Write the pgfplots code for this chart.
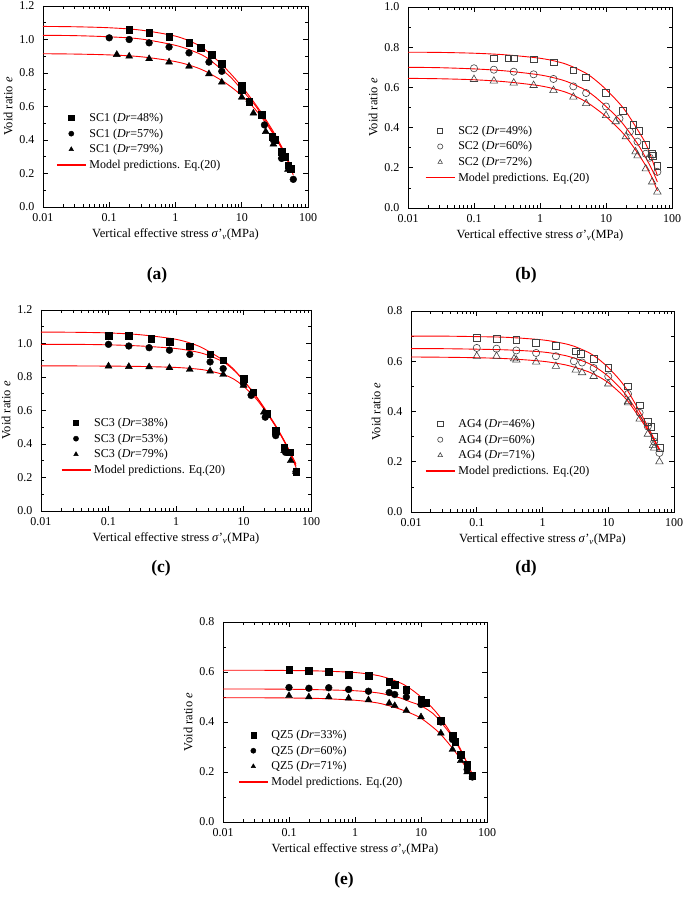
\documentclass[border=0pt]{standalone}
\usepackage{fontspec}
\setmainfont{Liberation Serif}
\usepackage{pgfplots}
\pgfplotsset{compat=1.18}

\pgfplotsset{
  panel/.style={
    scale only axis,
    anchor=south west,
    xmin=0.01, xmax=100,
    ymin=0,
    log ticks with fixed point,
    /pgf/number format/assume math mode=true,
    yticklabel style={xshift=-5pt, /pgf/number format/fixed, /pgf/number format/fixed zerofill, /pgf/number format/precision=1},
    xticklabel style={yshift=-3pt},
    minor y tick num=1,
    major tick length=5pt,
    minor tick length=3pt,
    axis line style={line width=0.6pt},
    every tick/.style={line width=0.6pt, black},
    tick label style={font=\fontsize{12}{14}\selectfont},
    label style={font=\fontsize{12.5}{15}\selectfont},
    xlabel={Vertical effective stress \textit{σ}'\textsubscript{\textit{v}}(MPa)},
    ylabel={Void ratio \textit{e}},
    legend style={draw=none, fill=none, anchor=north west, inner sep=0pt,
      font=\fontsize{12}{14}\selectfont, row sep=5.8pt, column sep=3pt,
      nodes={inner sep=0pt}},
    legend cell align=left,
  },
  mline/.style={red, line width=0.9pt, smooth, no marks},
  mleg/.style={mline, legend image code/.code={\draw[draw=red, line width=1.2pt] (0pt,0pt) -- (29pt,0pt);}},
  mk/.style={only marks, legend image code/.code={\draw[mark repeat=2, mark phase=2, ##1, mark size=2.6pt] plot coordinates {(0pt,0pt) (14.5pt,0pt) (29pt,0pt)};}},
  sq/.style={mk, mark=square*, mark size=3.3pt, mark options={fill=black, draw=black}},
  ci/.style={mk, mark=*, mark size=3.4pt, mark options={fill=black, draw=black}},
  tr/.style={mk, mark=triangle*, mark size=4pt, mark options={fill=black, draw=black}},
  osq/.style={mk, mark=square, mark size=3.4pt, mark options={draw=black!75, line width=0.6pt}},
  oci/.style={mk, mark=o, mark size=3.6pt, mark options={draw=black!75, line width=0.6pt}},
  otr/.style={mk, mark=triangle, mark size=4.3pt, mark options={draw=black!75, line width=0.6pt}},
}

\begin{document}
\begin{tikzpicture}[x=1pt,y=1pt]
\path[use as bounding box] (0,0) rectangle (685,899);

% (a)
\begin{semilogxaxis}[panel, at={(43pt,692pt)}, width=265pt, height=201pt, ymax=1.2,
  legend style={at={(0.049,0.468)}}]
\addplot[sq] coordinates {(0.2,1.06) (0.4,1.04) (0.8,1.015) (1.6,0.98) (2.4,0.95) (3.5,0.91) (5,0.857) (10,0.727) (10,0.70) (13,0.63) (20,0.55) (29,0.418) (32,0.40) (40,0.33) (45,0.30) (50,0.25) (55,0.23)};
\addlegendentry{SC1 (\textit{Dr}=48\%)}
\addplot[ci] coordinates {(0.1,1.01) (0.2,1.0) (0.4,0.98) (0.8,0.955) (1.6,0.92) (3.2,0.865) (5,0.81) (10,0.70) (13,0.63) (22,0.49) (30,0.40) (40,0.29) (60,0.165)};
\addlegendentry{SC1 (\textit{Dr}=57\%)}
\addplot[tr] coordinates {(0.13,0.91) (0.2,0.90) (0.4,0.885) (0.8,0.865) (1.6,0.84) (3.2,0.795) (5,0.745) (10,0.655) (15,0.56) (23,0.45) (30,0.375) (40,0.30) (50,0.225)};
\addlegendentry{SC1 (\textit{Dr}=79\%)}
\addplot[mleg] coordinates {(0.01,1.078) (0.03,1.076) (0.1,1.070) (0.3,1.056) (1,1.020) (2,0.975) (3,0.93) (5,0.85) (7,0.79) (10,0.72) (15,0.63) (20,0.56) (30,0.45) (40,0.36) (50,0.28) (60,0.21)};
\addlegendentry{Model predictions. Eq.(20)}
\addplot[mline, forget plot] coordinates {(0.01,1.025) (0.03,1.023) (0.1,1.016) (0.3,1.003) (1,0.965) (2,0.925) (3,0.89) (5,0.82) (7,0.77) (10,0.70) (15,0.62) (20,0.55) (30,0.44) (40,0.35) (50,0.27) (60,0.19)};
\addplot[mline, forget plot] coordinates {(0.01,0.915) (0.03,0.913) (0.1,0.908) (0.3,0.897) (1,0.868) (2,0.835) (3,0.805) (5,0.755) (7,0.715) (10,0.665) (15,0.595) (20,0.535) (30,0.435) (40,0.35) (50,0.275) (60,0.21)};
\end{semilogxaxis}

% (b)
\begin{semilogxaxis}[panel, at={(408pt,691pt)}, width=264pt, height=201pt, ymax=1.0,
  legend style={at={(0.064,0.409)}}]
\addplot[osq] coordinates {(0.2,0.745) (0.33,0.745) (0.4,0.745) (0.8,0.74) (1.6,0.725) (3.2,0.685) (5,0.65) (10,0.575) (18,0.485) (26,0.415) (31,0.385) (40,0.315) (50,0.27) (51,0.26) (60,0.21)};
\addlegendentry{SC2 (\textit{Dr}=49\%)}
\addplot[oci] coordinates {(0.1,0.695) (0.2,0.688) (0.4,0.678) (0.8,0.665) (1.6,0.642) (3.2,0.605) (5,0.572) (10,0.505) (16,0.445) (23,0.38) (30,0.33) (40,0.27) (46,0.25) (60,0.18)};
\addlegendentry{SC2 (\textit{Dr}=60\%)}
\addplot[otr] coordinates {(0.1,0.64) (0.2,0.632) (0.4,0.622) (0.8,0.61) (1.6,0.585) (3.2,0.552) (5,0.52) (10,0.46) (14,0.43) (20,0.355) (28,0.28) (30,0.26) (40,0.195) (50,0.13) (60,0.08)};
\addlegendentry{SC2 (\textit{Dr}=72\%)}
\addplot[mleg] coordinates {(0.01,0.775) (0.03,0.774) (0.1,0.770) (0.3,0.762) (1,0.745) (2,0.725) (3,0.705) (5,0.67) (7,0.635) (10,0.59) (15,0.53) (20,0.48) (30,0.39) (40,0.32) (50,0.24) (60,0.16)};
\addlegendentry{Model predictions. Eq.(20)}
\addplot[mline, forget plot] coordinates {(0.01,0.700) (0.03,0.698) (0.1,0.692) (0.3,0.682) (1,0.662) (2,0.64) (3,0.62) (5,0.585) (7,0.55) (10,0.505) (15,0.45) (20,0.40) (30,0.32) (40,0.25) (50,0.19) (60,0.13)};
\addplot[mline, forget plot] coordinates {(0.01,0.645) (0.03,0.643) (0.1,0.638) (0.3,0.628) (1,0.608) (2,0.585) (3,0.565) (5,0.528) (7,0.495) (10,0.455) (15,0.40) (20,0.355) (30,0.275) (40,0.21) (50,0.15) (60,0.085)};
\end{semilogxaxis}

% (c)
\begin{semilogxaxis}[panel, at={(41pt,388pt)}, width=270pt, height=201pt, ymax=1.2,
  legend style={at={(0.073,0.463)}}]
\addplot[sq] coordinates {(0.1,1.045) (0.2,1.045) (0.43,1.03) (0.8,1.01) (1.6,0.985) (3.2,0.935) (5,0.90) (10,0.79) (14,0.71) (22,0.58) (30,0.48) (40,0.38) (48,0.35) (60,0.235)};
\addlegendentry{SC3 (\textit{Dr}=38\%)}
\addplot[ci] coordinates {(0.1,0.995) (0.2,0.985) (0.4,0.975) (0.8,0.96) (1.6,0.935) (3.2,0.89) (5,0.85) (10,0.76) (13,0.69) (21,0.56) (30,0.45) (42,0.35) (60,0.235)};
\addlegendentry{SC3 (\textit{Dr}=53\%)}
\addplot[tr] coordinates {(0.1,0.865) (0.2,0.862) (0.4,0.86) (0.8,0.855) (1.6,0.845) (3.2,0.835) (5,0.815) (10,0.75) (13,0.705) (20,0.59) (30,0.47) (40,0.36) (50,0.30) (60,0.235)};
\addlegendentry{SC3 (\textit{Dr}=79\%)}
\addplot[mleg] coordinates {(0.01,1.068) (0.03,1.067) (0.1,1.063) (0.3,1.052) (1,1.025) (2,0.99) (3,0.955) (5,0.90) (7,0.85) (10,0.78) (15,0.69) (20,0.62) (30,0.51) (40,0.42) (50,0.34) (60,0.27)};
\addlegendentry{Model predictions. Eq.(20)}
\addplot[mline, forget plot] coordinates {(0.01,0.995) (0.03,0.995) (0.1,0.992) (0.3,0.985) (1,0.97) (2,0.95) (3,0.93) (5,0.89) (7,0.845) (10,0.78) (15,0.69) (20,0.615) (30,0.505) (40,0.415) (50,0.335) (60,0.26)};
\addplot[mline, forget plot] coordinates {(0.01,0.866) (0.03,0.866) (0.1,0.865) (0.3,0.863) (1,0.857) (2,0.848) (3,0.838) (5,0.815) (7,0.79) (10,0.745) (15,0.675) (20,0.61) (30,0.505) (40,0.42) (50,0.345) (60,0.28)};
\end{semilogxaxis}

% (d)
\begin{semilogxaxis}[panel, at={(411pt,387pt)}, width=263pt, height=201pt, ymax=0.8,
  legend style={at={(0.053,0.463)}}]
\addplot[osq] coordinates {(0.1,0.693) (0.2,0.69) (0.4,0.685) (0.8,0.675) (1.6,0.66) (3.2,0.64) (3.8,0.63) (6,0.61) (10,0.575) (20,0.50) (30,0.425) (40,0.36) (45,0.34) (50,0.30) (60,0.255)};
\addlegendentry{AG4 (\textit{Dr}=46\%)}
\addplot[oci] coordinates {(0.1,0.653) (0.2,0.65) (0.4,0.643) (0.8,0.633) (1.6,0.62) (3,0.60) (4,0.595) (6,0.573) (10,0.54) (20,0.47) (30,0.395) (40,0.34) (50,0.28) (60,0.235)};
\addlegendentry{AG4 (\textit{Dr}=60\%)}
\addplot[otr] coordinates {(0.1,0.62) (0.2,0.62) (0.37,0.61) (0.4,0.605) (0.8,0.597) (1.6,0.58) (3.2,0.565) (4,0.555) (6,0.54) (10,0.51) (20,0.44) (20,0.435) (30,0.37) (40,0.31) (48,0.265) (50,0.255) (60,0.20)};
\addlegendentry{AG4 (\textit{Dr}=71\%)}
\addplot[mleg] coordinates {(0.01,0.700) (0.03,0.700) (0.1,0.698) (0.3,0.695) (1,0.685) (2,0.672) (3,0.66) (5,0.635) (7,0.61) (10,0.575) (15,0.525) (20,0.48) (30,0.40) (40,0.34) (50,0.29) (60,0.25)};
\addlegendentry{Model predictions. Eq.(20)}
\addplot[mline, forget plot] coordinates {(0.01,0.650) (0.03,0.650) (0.1,0.648) (0.3,0.645) (1,0.637) (2,0.625) (3,0.613) (5,0.592) (7,0.57) (10,0.54) (15,0.495) (20,0.455) (30,0.385) (40,0.33) (50,0.285) (60,0.245)};
\addplot[mline, forget plot] coordinates {(0.01,0.617) (0.03,0.616) (0.1,0.614) (0.3,0.610) (1,0.600) (2,0.588) (3,0.577) (5,0.558) (7,0.54) (10,0.515) (15,0.475) (20,0.44) (30,0.375) (40,0.325) (50,0.285) (60,0.25)};
\end{semilogxaxis}

% (e)
\begin{semilogxaxis}[panel, at={(223pt,77pt)}, width=264pt, height=200pt, ymax=0.8,
  legend style={at={(0.057,0.46)}}]
\addplot[sq] coordinates {(0.1,0.61) (0.2,0.605) (0.4,0.60) (0.8,0.59) (1.6,0.585) (3.3,0.56) (4,0.55) (6,0.53) (10,0.49) (12,0.478) (20,0.405) (30,0.345) (33,0.32) (40,0.27) (50,0.23) (60,0.185)};
\addlegendentry{QZ5 (\textit{Dr}=33\%)}
\addplot[ci] coordinates {(0.1,0.538) (0.2,0.535) (0.4,0.537) (0.8,0.53) (1.6,0.523) (3.3,0.518) (4,0.51) (6,0.50) (10,0.47) (11,0.48) (20,0.40) (30,0.33) (40,0.27) (50,0.21) (60,0.18)};
\addlegendentry{QZ5 (\textit{Dr}=60\%)}
\addplot[tr] coordinates {(0.1,0.505) (0.2,0.50) (0.4,0.50) (0.8,0.495) (1.6,0.488) (3.3,0.475) (4,0.465) (6,0.445) (10,0.42) (20,0.355) (30,0.29) (40,0.245) (50,0.20) (60,0.18)};
\addlegendentry{QZ5 (\textit{Dr}=71\%)}
\addplot[mleg] coordinates {(0.01,0.607) (0.03,0.607) (0.1,0.606) (0.3,0.604) (1,0.598) (2,0.588) (3,0.577) (5,0.555) (7,0.532) (10,0.50) (15,0.455) (20,0.415) (30,0.345) (40,0.29) (50,0.235) (60,0.19)};
\addlegendentry{Model predictions. Eq.(20)}
\addplot[mline, forget plot] coordinates {(0.01,0.532) (0.03,0.532) (0.1,0.531) (0.3,0.529) (1,0.525) (2,0.518) (3,0.51) (5,0.495) (7,0.48) (10,0.465) (15,0.435) (20,0.40) (30,0.34) (40,0.285) (50,0.235) (60,0.19)};
\addplot[mline, forget plot] coordinates {(0.01,0.497) (0.03,0.497) (0.1,0.496) (0.3,0.494) (1,0.487) (2,0.478) (3,0.468) (5,0.45) (7,0.435) (10,0.415) (15,0.38) (20,0.35) (30,0.295) (40,0.25) (50,0.21) (60,0.18)};
\end{semilogxaxis}

\node[font=\fontsize{17.5}{20}\selectfont\bfseries] at (157,624) {(a)};
\node[font=\fontsize{17.5}{20}\selectfont\bfseries] at (526,624) {(b)};
\node[font=\fontsize{17.5}{20}\selectfont\bfseries] at (161,331) {(c)};
\node[font=\fontsize{17.5}{20}\selectfont\bfseries] at (526,331) {(d)};
\node[font=\fontsize{17.5}{20}\selectfont\bfseries] at (344,19) {(e)};
\end{tikzpicture}
\end{document}
